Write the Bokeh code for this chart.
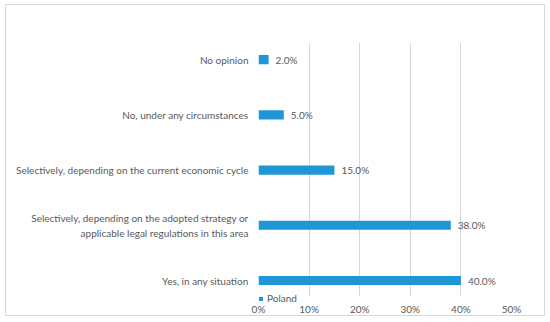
from bokeh.plotting import figure
from bokeh.models import (ColumnDataSource, LabelSet, Legend, LegendItem, SingleIntervalTicker,
                          FixedTicker, NumeralTickFormatter, BoxAnnotation)
from bokeh.core.properties import value
from bokeh.embed import file_html
from bokeh.resources import INLINE

categories = [
    "Yes, in any situation",
    "Selectively, depending on the adopted strategy or\napplicable legal regulations in this area",
    "Selectively, depending on the current economic cycle",
    "No, under any circumstances",
    "No opinion",
]
values = [0.40, 0.38, 0.15, 0.05, 0.02]
value_labels = ["40.0%", "38.0%", "15.0%", "5.0%", "2.0%"]
series_name = "Poland"
positions = list(range(len(categories)))

src = ColumnDataSource(dict(cat=categories, pos=positions, val=values, lab=value_labels))

FONT = "Lato"
GREY = "#595959"
BLUE = "#1f96d6"
FS = "10px"

Y_START, Y_END = -0.434, 4.31
GRID_BOTTOM = -0.29

p = figure(width=540, height=312, output_backend="svg", toolbar_location=None,
           x_range=(0, 0.5), y_range=(Y_START, Y_END),
           min_border_left=252, min_border_right=35, min_border_top=37, min_border_bottom=13)
p.outline_line_color = None
p.background_fill_color = "white"
p.border_fill_color = "white"

r = p.hbar(y="pos", left=0, right="val", height=0.165, source=src, color=BLUE, line_color=None)

p.yaxis.ticker = FixedTicker(ticks=positions)
p.yaxis.major_label_overrides = {pp: c for pp, c in zip(positions, categories)}
p.yaxis.axis_line_color = None
p.yaxis.major_tick_line_color = None
p.yaxis.minor_tick_line_color = None
p.yaxis.major_tick_out = 0
p.yaxis.minor_tick_out = 0
p.yaxis.major_label_standoff = 10
p.yaxis.major_label_text_font = FONT
p.yaxis.major_label_text_font_size = FS
p.yaxis.major_label_text_color = GREY

p.xaxis.ticker = SingleIntervalTicker(interval=0.1)
p.xaxis.formatter = NumeralTickFormatter(format="0%")
p.xaxis.axis_line_color = None
p.xaxis.major_tick_line_color = None
p.xaxis.minor_tick_line_color = None
p.xaxis.major_tick_out = 0
p.xaxis.minor_tick_out = 0
p.xaxis.major_label_standoff = -2
p.xaxis.major_label_text_font = FONT
p.xaxis.major_label_text_font_size = FS
p.xaxis.major_label_text_color = GREY

p.ygrid.grid_line_color = None
p.xgrid.grid_line_color = "#d9d9d9"
p.xgrid.grid_line_width = 1
try:
    p.xgrid.cross_bounds = (GRID_BOTTOM, Y_END)
except Exception:
    pass

# white strip below the grid area where the legend sits
mask = BoxAnnotation(bottom=Y_START, top=GRID_BOTTOM, fill_color="white", fill_alpha=1,
                     line_color=None, level="underlay")
p.add_layout(mask)

val_labels = LabelSet(x="val", y="pos", text="lab", source=src, x_offset=7,
                      text_align="left", text_baseline="middle",
                      text_font=value(FONT), text_font_size=value(FS), text_color=value(GREY))
p.add_layout(val_labels)

legend = Legend(items=[LegendItem(label=series_name, renderers=[r])], location=(0, 0),
                orientation="horizontal",
                glyph_width=5, glyph_height=5, label_standoff=4, padding=0, margin=0,
                spacing=0, background_fill_alpha=0, border_line_alpha=0,
                label_text_font=FONT, label_text_font_size=FS, label_text_color=GREY,
                label_height=8)
p.add_layout(legend)

p.styles = {"border": "1px solid #d9d9d9", "margin-left": "5px", "margin-top": "4px"}

open("out.html", "w").write(file_html(p, INLINE))
